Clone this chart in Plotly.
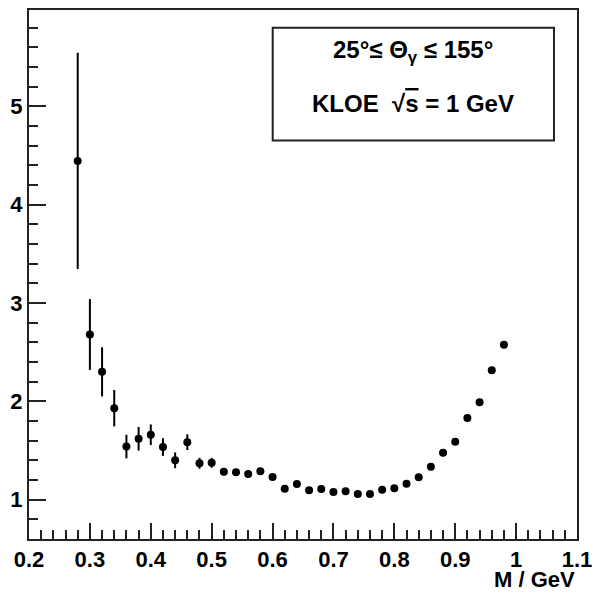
import plotly.graph_objects as go

mass = [0.28, 0.30, 0.32, 0.34, 0.36, 0.38, 0.40, 0.42, 0.44, 0.46,
        0.48, 0.50, 0.52, 0.54, 0.56, 0.58, 0.60, 0.62, 0.64, 0.66,
        0.68, 0.70, 0.72, 0.74, 0.76, 0.78, 0.80, 0.82, 0.84, 0.86,
        0.88, 0.90, 0.92, 0.94, 0.96, 0.98]
ratio = [4.445, 2.68, 2.30, 1.93, 1.54, 1.62, 1.66, 1.535, 1.40, 1.585,
         1.37, 1.375, 1.283, 1.278, 1.26, 1.29, 1.23, 1.11, 1.16, 1.097,
         1.108, 1.077, 1.086, 1.058, 1.058, 1.10, 1.115, 1.163, 1.227, 1.335,
         1.478, 1.59, 1.83, 1.99, 2.315, 2.575]
ratio_err = [1.10, 0.36, 0.25, 0.185, 0.12, 0.12, 0.105, 0.09, 0.08, 0.08,
             0.055, 0.05, 0.035, 0.03, 0.03, 0.03, 0.03, 0.025, 0.025, 0.02,
             0.02, 0.02, 0.02, 0.02, 0.02, 0.02, 0.02, 0.02, 0.02, 0.02,
             0.02, 0.02, 0.02, 0.02, 0.02, 0.02]

x_ticks = [0.2, 0.3, 0.4, 0.5, 0.6, 0.7, 0.8, 0.9, 1.0, 1.1]
x_ticklabels = ["0.2", "0.3", "0.4", "0.5", "0.6", "0.7", "0.8", "0.9", "1", "1.1"]
y_ticks = [1, 2, 3, 4, 5]
y_ticklabels = ["1", "2", "3", "4", "5"]

FONT = "Liberation Sans, Arial, Helvetica, sans-serif"
LINE = "#222222"

fig = go.Figure()
fig.add_trace(go.Scatter(
    x=mass, y=ratio, mode="markers",
    marker=dict(color="black", size=8),
    error_y=dict(type="data", array=ratio_err, visible=True,
                 color="black", thickness=2, width=0),
    showlegend=False, hoverinfo="skip",
))

fig.update_layout(
    width=594, height=593,
    margin=dict(l=29, r=17, t=10, b=54, autoexpand=False),
    paper_bgcolor="white", plot_bgcolor="white",
    font=dict(family=FONT, color="black"),
    xaxis=dict(
        range=[0.2, 1.1], tickvals=x_ticks, ticktext=x_ticklabels,
        ticks="inside", ticklen=16, tickwidth=2, tickcolor=LINE,
        showline=True, linecolor=LINE, linewidth=2, mirror=True,
        showgrid=False, zeroline=False, automargin=False,
        tickfont=dict(family=FONT, size=22, color="black", weight="bold"),
        minor=dict(dtick=0.02, tick0=0.2, ticks="inside", ticklen=9,
                   tickwidth=2, tickcolor=LINE, showgrid=False),
    ),
    yaxis=dict(
        range=[0.6, 5.98], tickvals=y_ticks, ticktext=y_ticklabels,
        ticks="inside", ticklen=17, tickwidth=2, tickcolor=LINE,
        showline=True, linecolor=LINE, linewidth=2, mirror=True,
        showgrid=False, zeroline=False, automargin=False,
        tickfont=dict(family=FONT, size=22, color="black", weight="bold"),
        minor=dict(dtick=0.2, tick0=0, ticks="inside", ticklen=9,
                   tickwidth=2, tickcolor=LINE, showgrid=False),
    ),
)

# info box
fig.add_shape(type="rect", xref="paper", yref="paper",
              x0=0.4447, x1=0.958, y0=0.7535, y1=0.9664,
              line=dict(color=LINE, width=2), fillcolor="white")
fig.add_annotation(xref="paper", yref="paper", x=0.70, y=0.922,
                   text="<b>25°≤ Θ<sub>γ</sub> ≤ 155°</b>", showarrow=False,
                   font=dict(family=FONT, size=24, color="black"),
                   xanchor="center", yanchor="middle")
fig.add_annotation(xref="paper", yref="paper", x=0.70, y=0.823,
                   text="<b>KLOE  √<span style='text-decoration:overline'>s</span> = 1 GeV</b>",
                   showarrow=False,
                   font=dict(family=FONT, size=24, color="black"),
                   xanchor="center", yanchor="middle")
# axis title
fig.add_annotation(xref="paper", yref="paper", x=1.0, y=-0.077,
                   text="<b>M / GeV</b>", showarrow=False,
                   font=dict(family=FONT, size=22, color="black"),
                   xanchor="right", yanchor="middle")

fig.write_html("out.html", config={"displayModeBar": False},
               post_script="document.body.style.margin='0';document.body.style.overflow='hidden';")
